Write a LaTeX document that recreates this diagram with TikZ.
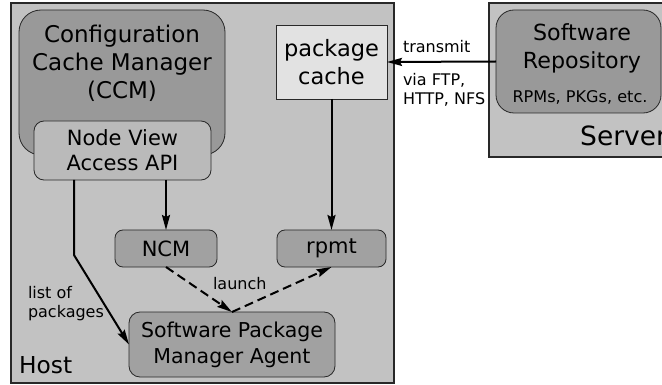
\documentclass[tikz,border=0pt]{standalone}
\usepackage{fontspec}
\setmainfont{DejaVu Sans}
\usetikzlibrary{arrows.meta}
\definecolor{hostgray}{RGB}{194,194,194}
\definecolor{darkbox}{RGB}{153,153,153}
\definecolor{midbox}{RGB}{161,161,161}
\definecolor{apibox}{RGB}{186,186,186}
\definecolor{cachebox}{RGB}{226,226,226}
\definecolor{edgegray}{RGB}{40,40,40}
\tikzset{
  frame/.style={draw=edgegray, line width=1.2pt, fill=hostgray},
  boxbase/.style={draw=edgegray, line width=0.8pt, inner sep=0pt, outer sep=0pt, align=center},
  bigbox/.style={boxbase, fill=darkbox, rounded corners=22pt},
  apistyle/.style={boxbase, fill=apibox, rounded corners=10pt, font=\fontsize{21}{25}\selectfont},
  smallbox/.style={boxbase, fill=midbox, rounded corners=8pt, font=\fontsize{21}{25}\selectfont},
  agentbox/.style={boxbase, fill=midbox, rounded corners=11pt, font=\fontsize{20.5}{26}\selectfont},
  cachestyle/.style={boxbase, fill=cachebox, font=\fontsize{22.5}{28}\selectfont},
  lbl/.style={inner sep=0pt, outer sep=0pt, font=\fontsize{16}{19}\selectfont},
  arr/.style={line width=2pt, -{Stealth[length=15pt,width=8pt,inset=2pt]}},
  darr/.style={arr, dash pattern=on 9pt off 5pt},
}
\begin{document}
\begin{tikzpicture}[x=1pt,y=-1pt]
\clip (0,0) rectangle (662,385);
\path[use as bounding box] (0,0) rectangle (662,385);
% frames
\path[frame] (11,3) rectangle (394,383);
\path[frame] (489,3) rectangle (672,157);
% CCM
\node[bigbox, minimum width=206pt, minimum height=145pt] (ccm) at (122,82.5) {};
\node[inner sep=0pt, align=center, font=\fontsize{23}{28}\selectfont] (ccmtext) at (122,63) {Configuration\\Cache Manager\\(CCM)};
\node[apistyle, minimum width=177pt, minimum height=59pt] (api) at (122.5,150.5) {Node View\\Access API};
% package cache
\node[cachestyle, minimum width=111pt, minimum height=74pt] (cache) at (331.5,62) {package\\cache};
% repository
\node[bigbox, rounded corners=18pt, minimum width=165pt, minimum height=103pt] (repo) at (578.5,61.5) {};
\node[inner sep=0pt, align=center, font=\fontsize{22.2}{28}\selectfont] (repotext) at (582,48) {Software\\Repository};
\node[inner sep=0pt, font=\fontsize{16.1}{19}\selectfont, anchor=base] (rpms) at (580,103) {RPMs, PKGs, etc.};
\node[inner sep=0pt, font=\fontsize{26.5}{32}\selectfont, anchor=base west] (server) at (580,146) {Server};
% lower boxes
\node[smallbox, minimum width=102pt, minimum height=37pt] (ncm) at (166,248.5) {NCM};
\node[smallbox, minimum width=109pt, minimum height=37pt] (rpmt) at (331.5,248.5) {rpmt};
\node[agentbox, minimum width=206pt, minimum height=65pt] (spma) at (232,344.5) {Software Package\\Manager Agent};
\node[inner sep=0pt, font=\fontsize{23.3}{28}\selectfont, anchor=base west] (host) at (19,373) {Host};
% connectors
\coordinate (bend) at (74,255);
\draw[arr] (api.south -| bend) -- (bend) -- (spma.west);
\draw[arr] (api.south -| ncm.north) -- (ncm.north);
\draw[arr] (cache.south) -- (rpmt.north);
\draw[darr] (ncm.south) -- (spma.north);
\draw[darr] (spma.north) -- (rpmt.south);
\draw[arr] (repo.west) -- (cache.east);
% labels
\node[lbl, anchor=base west] (transmit) at (403,53) {transmit};
\node[lbl, anchor=north west, align=left] (via) at (403,73) {via FTP,\\HTTP, NFS};
\node[lbl, anchor=north west, align=left] (list) at (28,286) {list of\\packages};
\node[lbl, anchor=base west] (launch) at (213,289) {launch};
\end{tikzpicture}
\end{document}
